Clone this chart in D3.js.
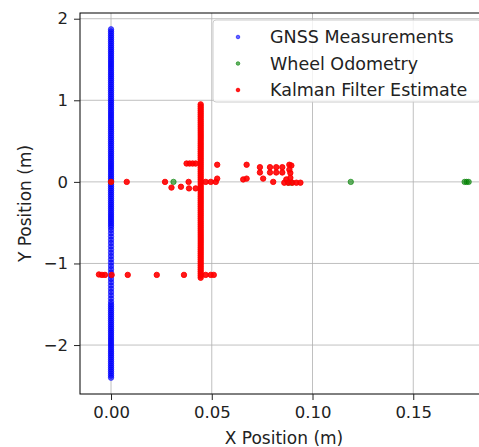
<html>
<head>
<meta charset="utf-8">
<script src="https://cdnjs.cloudflare.com/ajax/libs/d3/7.8.5/d3.min.js"></script>
<style>
  body { margin: 0; background: #fff; }
  text { font-family: "DejaVu Sans", sans-serif; }
  .grid line { stroke: #b0b0b0; stroke-width: 0.8; }
</style>
</head>
<body>
<svg width="479" height="447"></svg>
<script>
const gnssX = 0;
const gnssY = [
  1.870,1.845,1.820,1.795,1.770,1.745,1.720,1.695,1.670,1.645,1.620,1.595,1.570,1.545,1.520,
  1.495,1.470,1.445,1.420,1.395,1.370,1.345,1.320,1.295,1.270,1.245,1.220,1.195,1.170,1.145,
  1.120,1.095,1.070,1.045,1.020,0.995,0.970,0.945,0.920,0.895,0.870,0.845,0.820,0.795,0.770,
  0.745,0.720,0.695,0.670,0.645,0.620,0.595,0.570,0.545,0.520,0.495,0.470,0.445,0.420,0.395,
  0.370,0.345,0.320,0.295,0.270,0.245,0.220,0.195,0.170,0.145,0.120,0.095,0.070,0.045,0.020,
  -0.005,-0.030,-0.055,-0.080,-0.105,-0.130,-0.155,-0.180,-0.205,-0.230,-0.255,-0.280,-0.305,
  -0.330,-0.355,-0.380,-0.405,-0.430,-0.455,-0.480,-0.505,-0.530,-0.555,
  -0.59,-0.63,-0.67,-0.71,-0.75,-0.79,-0.83,-0.87,-0.91,-0.95,-0.99,-1.03,-1.07,-1.11,-1.15,
  -1.19,-1.23,-1.27,-1.31,-1.35,-1.39,-1.43,-1.47,
  -1.500,-1.525,-1.550,-1.575,-1.600,-1.625,-1.650,-1.675,-1.700,-1.725,-1.750,-1.775,-1.800,
  -1.825,-1.850,-1.875,-1.900,-1.925,-1.950,-1.975,-2.000,-2.025,-2.050,-2.075,-2.100,-2.125,
  -2.150,-2.175,-2.200,-2.225,-2.250,-2.275,-2.300,-2.325,-2.350,-2.375,-2.400
];

// wheel odometry (x, y)
const odomPts = [
  [0.0,0.0],[0.031,0.0],[0.088,-0.01],[0.0895,-0.01],[0.119,0.0],
  [0.1755,0.0],[0.1765,0.0],[0.1775,0.0]
];

// Kalman filter estimate: the vertical band at x = 0.0445
const kalmanBandX = 0.0445;
const kalmanBandY = [
  0.950,0.925,0.900,0.875,0.850,0.825,0.800,0.775,0.750,0.725,0.700,0.675,0.650,0.625,0.600,
  0.575,0.550,0.525,0.500,0.475,0.450,0.425,0.400,0.375,0.350,0.325,0.300,0.275,0.250,0.225,
  0.200,0.175,0.150,0.125,0.100,0.075,0.050,0.025,0.000,-0.025,-0.050,-0.075,-0.100,-0.125,
  -0.150,-0.175,-0.200,-0.225,-0.250,-0.275,-0.300,-0.325,-0.350,-0.375,-0.400,-0.425,-0.450,
  -0.475,-0.500,-0.525,-0.550,-0.575,-0.600,-0.625,-0.650,-0.675,-0.700,-0.725,-0.750,-0.775,
  -0.800,-0.825,-0.850,-0.875,-0.900,-0.925,-0.950,-0.975,-1.000,-1.025,-1.050,-1.075,-1.100,
  -1.125,-1.150,-1.175
];
// Kalman filter estimate: other points (x, y)
const kalmanPts = [
  [0.0375,0.225],[0.039,0.225],[0.0405,0.225],[0.042,0.225],
  [0.0,0.0],[0.0078,0.0],[0.0268,0.0],[0.0385,0.0],[0.047,0.0],[0.052,0.0],[0.0495,0.0],
  [0.030,-0.07],[0.0347,-0.06],[0.0387,-0.08],[0.042,-0.08],
  [0.0527,0.21],[0.0527,0.04],[0.0673,0.21],[0.0656,0.03],[0.0673,0.04],
  [0.0739,0.18],[0.0739,0.115],[0.0755,0.04],[0.0789,0.18],[0.0789,0.115],[0.0805,0.0],
  [0.082,0.18],[0.082,0.115],[0.085,0.18],[0.085,0.115],[0.0885,0.21],[0.0885,0.15],
  [0.089,0.11],[0.0895,0.2],[0.087,0.03],[0.089,0.05],[0.086,-0.01],[0.088,-0.01],
  [0.090,-0.01],[0.092,-0.01],[0.094,-0.01],
  [-0.006,-1.135],[-0.0045,-1.14],[-0.003,-1.14],[0.0003,-1.14],[0.0083,-1.14],
  [0.0227,-1.14],[0.0362,-1.14],[0.047,-1.14],[0.0495,-1.14],[0.051,-1.14]
];

const xTicks = [0, 0.05, 0.10, 0.15];
const yTicks = [-2, -1, 0, 1, 2];
const legendNames = ['GNSS Measurements', 'Wheel Odometry', 'Kalman Filter Estimate'];

const mLeft = 80, mRight = 488, mTop = 13, mBottom = 394;

const svg = d3.select('svg');

const x = d3.scaleLinear().domain([-0.0154, 0.1871]).range([mLeft, mRight]);
const y = d3.scaleLinear().domain([-2.6, 2.07]).range([mBottom, mTop]);

// grid
svg.append('g').attr('class', 'grid')
  .selectAll('line').data(xTicks).enter().append('line')
  .attr('x1', d => x(d)).attr('x2', d => x(d))
  .attr('y1', mTop).attr('y2', mBottom);
svg.append('g').attr('class', 'grid')
  .selectAll('line').data(yTicks).enter().append('line')
  .attr('x1', mLeft).attr('x2', mRight)
  .attr('y1', d => y(d)).attr('y2', d => y(d));

function scatter(pts, color, op) {
  svg.append('g').selectAll('circle').data(pts).enter().append('circle')
    .attr('cx', d => x(d[0])).attr('cy', d => y(d[1]))
    .attr('r', 2.7)
    .attr('fill', color).attr('fill-opacity', op)
    .attr('stroke', color).attr('stroke-opacity', op).attr('stroke-width', 1);
}

scatter(gnssY.map(v => [gnssX, v]), '#0000ff', 0.6);
scatter(odomPts, '#008000', 0.6);
scatter(kalmanBandY.map(v => [kalmanBandX, v]).concat(kalmanPts), '#ff0000', 0.9);

// spines
svg.append('rect')
  .attr('x', mLeft).attr('y', mTop)
  .attr('width', mRight - mLeft).attr('height', mBottom - mTop)
  .attr('fill', 'none').attr('stroke', '#000').attr('stroke-width', 1);

// axes
const yAxis = svg.append('g')
  .attr('transform', `translate(${mLeft},0)`)
  .call(d3.axisLeft(y).tickValues(yTicks).tickFormat(d3.format('d')).tickSize(6).tickPadding(6));
const xAxis = svg.append('g')
  .attr('transform', `translate(0,${mBottom})`)
  .call(d3.axisBottom(x).tickValues(xTicks).tickFormat(d3.format('.2f')).tickSize(6).tickPadding(6));
[xAxis, yAxis].forEach(a => {
  a.select('.domain').remove();
  a.selectAll('text').attr('font-size', 16.5).attr('fill', '#222')
    .attr('font-family', '"DejaVu Sans", sans-serif');
  a.selectAll('line').attr('stroke', '#222');
});

svg.append('text')
  .attr('x', (mLeft + mRight) / 2).attr('y', 438)
  .attr('text-anchor', 'middle').attr('dominant-baseline', 'central')
  .attr('font-size', 17).attr('fill', '#222')
  .text('X Position (m)');
svg.append('text')
  .attr('transform', `translate(25,${(mTop + mBottom) / 2}) rotate(-90)`)
  .attr('text-anchor', 'middle').attr('dominant-baseline', 'central')
  .attr('font-size', 17).attr('fill', '#222')
  .text('Y Position (m)');

// legend
const legendColors = ['#0000ff', '#008000', '#ff0000'];
const legendOps = [0.6, 0.6, 0.9];
const lg = svg.append('g');
lg.append('rect')
  .attr('x', 213).attr('y', 20).attr('width', 268).attr('height', 82)
  .attr('rx', 3).attr('fill', '#fff').attr('fill-opacity', 0.8)
  .attr('stroke', '#cccccc').attr('stroke-width', 1);
const rows = lg.selectAll('g.row').data(legendNames).enter().append('g')
  .attr('transform', (d, i) => `translate(0,${37 + i * 26.5})`);
rows.append('circle')
  .attr('cx', 238).attr('cy', 0).attr('r', 1.8)
  .attr('fill', (d, i) => legendColors[i]).attr('fill-opacity', (d, i) => legendOps[i])
  .attr('stroke', (d, i) => legendColors[i]).attr('stroke-opacity', (d, i) => legendOps[i]);
rows.append('text')
  .attr('x', 270).attr('y', 0).attr('dominant-baseline', 'central')
  .attr('font-size', 17.5).attr('fill', '#222')
  .text(d => d);
</script>
</body>
</html>
